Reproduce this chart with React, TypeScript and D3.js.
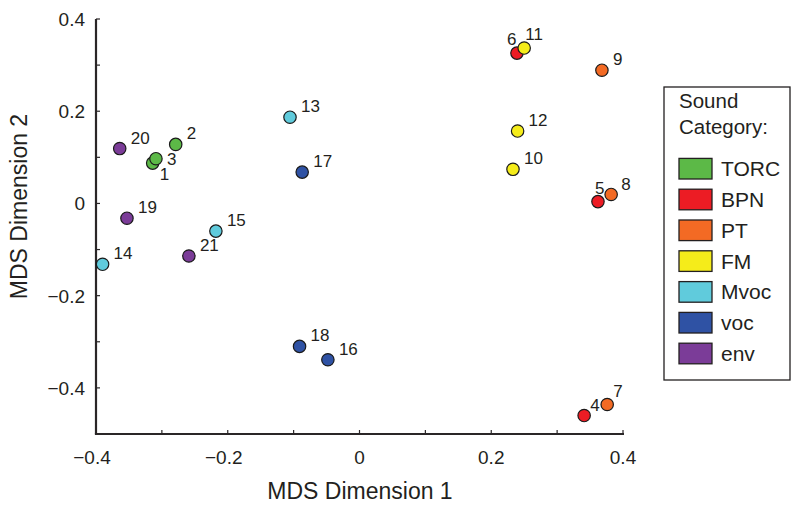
import React from "react";
import * as d3 from "d3";

const categories = ["TORC", "BPN", "PT", "FM", "Mvoc", "voc", "env"];
const categoryColors = ["#5cb947", "#ec1c24", "#f36a24", "#f5ec1a", "#60cbdc", "#2f52a4", "#7b3c98"];

// point ids, category index, MDS coordinates (drawing order)
const pointIds = [1, 2, 3, 4, 7, 8, 5, 6, 9, 10, 11, 12, 13, 14, 15, 16, 17, 18, 19, 20, 21];
const pointCats = [0, 0, 0, 1, 2, 2, 1, 1, 2, 3, 3, 3, 4, 4, 4, 5, 5, 5, 6, 6, 6];
const dim1 = [-0.314, -0.279, -0.309, 0.341, 0.376, 0.382, 0.362, 0.239, 0.368, 0.233, 0.25, 0.24, -0.1055, -0.39, -0.218, -0.048, -0.087, -0.091, -0.353, -0.364, -0.259];
const dim2 = [0.0875, 0.128, 0.097, -0.46, -0.436, 0.0195, 0.004, 0.326, 0.289, 0.074, 0.337, 0.157, 0.187, -0.132, -0.06, -0.339, 0.068, -0.31, -0.032, 0.119, -0.114];

const xTicks = [-0.4, -0.3, -0.2, -0.1, 0, 0.1, 0.2, 0.3, 0.4];
const yTicks = [-0.4, -0.3, -0.2, -0.1, 0, 0.1, 0.2, 0.3, 0.4];
const labeledTicks = [-0.4, -0.2, 0, 0.2, 0.4];

const xTitle = "MDS Dimension 1";
const yTitle = "MDS Dimension 2";
const legendTitle = ["Sound", "Category:"];

// label offsets relative to marker (layout)
const defaultOffset = [11, -5];
const labelOffsets: Record<number, number[]> = {
  1: [7, 17],
  3: [11, 6],
  6: [-10, -8],
  11: [1, -8],
  5: [-3, -8],
  8: [10, -4],
  4: [6, -5],
  7: [6, -7],
};

const fmt = (v: number) => {
  if (Math.abs(v) < 1e-9) return "0";
  return (v < 0 ? "\u2212" : "") + Math.abs(v).toFixed(1);
};

export default function App() {
  const W = 800, H = 509;
  const x = d3.scaleLinear().domain([-0.4, 0.4]).range([96, 623]);
  const y = d3.scaleLinear().domain([-0.5, 0.4]).range([434, 19]);
  const axisColor = "#2a2627";
  const font = "'Liberation Sans', Arial, Helvetica, sans-serif";
  const tickLen = 4;

  const legendX = 664, legendY = 87, legendW = 126, legendH = 293;
  const rowY0 = 168.7, rowStep = 30.8;

  return (
    <svg width={W} height={H} style={{ position: "absolute", left: 0, top: 0, background: "#fff" }} fontFamily={font}>
      <rect x={0} y={0} width={W} height={H} fill="#fff" />
      {/* axes */}
      <line x1={x(-0.4)} x2={x(-0.4)} y1={y(0.4)} y2={y(-0.5)} stroke={axisColor} strokeWidth={2.2} />
      <line x1={x(-0.4) - 1.1} x2={x(0.4) + 1} y1={y(-0.5)} y2={y(-0.5)} stroke={axisColor} strokeWidth={2.2} />
      {yTicks.map((t) => (
        <line key={"yt" + t} x1={x(-0.4)} x2={x(-0.4) + tickLen} y1={y(t)} y2={y(t)} stroke={axisColor} strokeWidth={1.2} />
      ))}
      {xTicks.map((t) => (
        <line key={"xt" + t} x1={x(t)} x2={x(t)} y1={y(-0.5)} y2={y(-0.5) - tickLen} stroke={axisColor} strokeWidth={1.2} />
      ))}
      {labeledTicks.map((t) => (
        <text key={"yl" + t} x={85} y={y(t)} dy="0.36em" textAnchor="end" fontSize={19} fill="#231f20">
          {fmt(t)}
        </text>
      ))}
      {labeledTicks.map((t) => (
        <text key={"xl" + t} x={x(t) + (t < 0 ? -4 : 0)} y={464} textAnchor="middle" fontSize={19} fill="#231f20">
          {fmt(t)}
        </text>
      ))}
      <text x={360} y={499} textAnchor="middle" fontSize={23} fill="#231f20">{xTitle}</text>
      <text transform="translate(27,206.5) rotate(-90)" textAnchor="middle" fontSize={23} fill="#231f20">{yTitle}</text>

      {/* points */}
      {pointIds.map((id, i) => (
        <circle key={"p" + id} cx={x(dim1[i])} cy={y(dim2[i])} r={6.2} fill={categoryColors[pointCats[i]]} stroke="#1a1a1a" strokeWidth={1.2} />
      ))}
      {pointIds.map((id, i) => {
        const off = labelOffsets[id] || defaultOffset;
        return (
          <text key={"t" + id} x={x(dim1[i]) + off[0]} y={y(dim2[i]) + off[1]} fontSize={17} fill="#231f20">
            {id}
          </text>
        );
      })}

      {/* legend */}
      <rect x={legendX} y={legendY} width={legendW} height={legendH} fill="#fff" stroke="#231f20" strokeWidth={1.3} />
      {legendTitle.map((s, i) => (
        <text key={"lt" + i} x={679} y={107.5 + i * 26} fontSize={20.5} fill="#231f20">{s}</text>
      ))}
      {categories.map((c, i) => (
        <g key={"lg" + c}>
          <rect x={679} y={rowY0 + i * rowStep - 10.3} width={33} height={20.6} fill={categoryColors[i]} stroke="#231f20" strokeWidth={1.3} />
          <text x={721} y={rowY0 + i * rowStep} dy="0.36em" fontSize={21} fill="#231f20">{c}</text>
        </g>
      ))}
    </svg>
  );
}
